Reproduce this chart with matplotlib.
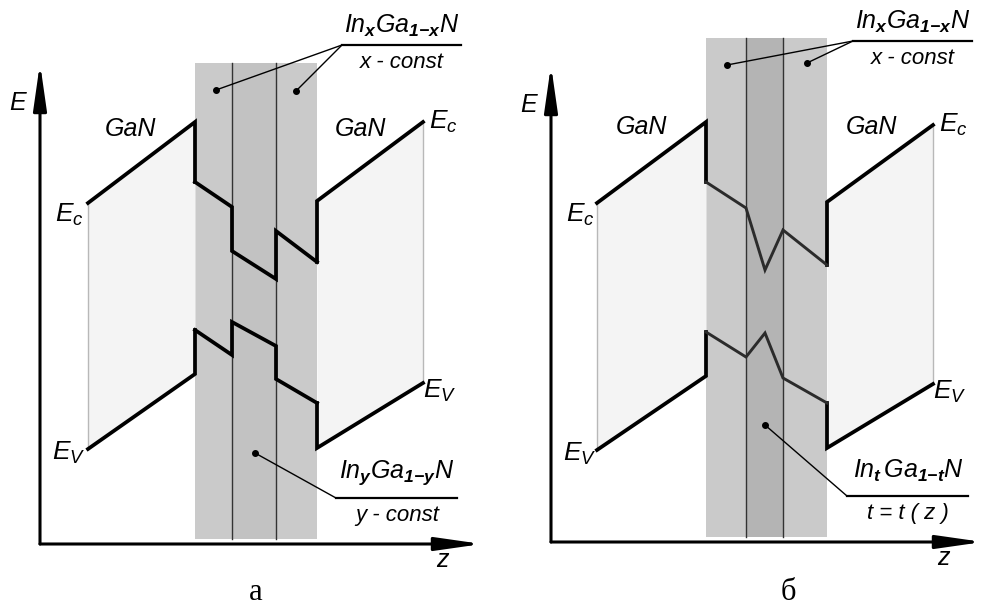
import numpy as np
import matplotlib
matplotlib.use("Agg")
import matplotlib.pyplot as plt

plt.rcParams['font.family'] = ['Liberation Sans', 'DejaVu Sans']
plt.rcParams['mathtext.fontset'] = 'custom'
plt.rcParams['mathtext.it'] = 'Liberation Sans:italic'
plt.rcParams['mathtext.rm'] = 'Liberation Sans:italic'
plt.rcParams['mathtext.bf'] = 'Liberation Sans:bold:italic'

# layer boundaries along z: GaN start, barrier/well edges, GaN end
z_a = [48, 155, 192, 236, 277, 383]
z_b = [46, 155, 195, 232, 276, 382]

# conduction / valence band edges (z, E) for panel a: constant composition
Ec_a_z = [48, 155, 155, 192, 192, 236, 236, 277, 277, 383]
Ec_a_E = [341, 422, 362, 337, 293, 265, 313, 282, 343, 422]
Ev_a_z = [48, 155, 155, 192, 192, 236, 236, 277, 277, 383]
Ev_a_E = [95, 170, 214, 189, 222, 198, 165, 141, 96, 161]

# panel б: graded composition in the central layer
Ec_b_z = [46, 155, 155, 195, 214, 232, 276, 276, 382]
Ec_b_E = [339, 420, 360, 334, 272, 312, 277, 340, 417]
Ev_b_z = [46, 155, 155, 195, 214, 232, 276, 276, 382]
Ev_b_E = [92, 166, 210, 185, 209, 164, 139, 94, 158]

W, H = 984, 606
fig = plt.figure(figsize=(W / 100, H / 100), dpi=100)

LW = 2.7
TXT = dict(style='italic', fontsize=18, color='black')


def arrow(ax, x0, y0, x1, y1):
    ax.annotate('', xy=(x1, y1), xytext=(x0, y0),
                arrowprops=dict(arrowstyle='-|>,head_length=1.4,head_width=0.2',
                                lw=2.2, color='black', shrinkA=0, shrinkB=0,
                                mutation_scale=20))


def band(ax, zs, Es, inner_color, inner_lw):
    # outer GaN slopes and the steps at the heterointerfaces stay bold
    zs, Es = np.array(zs), np.array(Es)
    ax.plot(zs[:3], Es[:3], color='black', lw=LW, zorder=4, solid_joinstyle='miter')
    ax.plot(zs[-3:], Es[-3:], color='black', lw=LW, zorder=4, solid_joinstyle='miter')
    ax.plot(zs[2:-2], Es[2:-2], color=inner_color, lw=inner_lw, zorder=4,
            solid_joinstyle='miter')


def panel(px0, pw, ox, oy, z, Ecz, EcE, Evz, EvE, top, mid_color, e_top, z_end,
          letter, lab_bot, lab_bot2, tag):
    ax = fig.add_axes([px0 / W, 0, pw / W, 1])
    ax.set_xlim(-ox, pw - ox)
    ax.set_ylim(oy - H, oy)
    ax.axis('off')

    # quantum well layers
    ax.fill_between([z[1], z[4]], 5, top, color='#cacaca', lw=0, zorder=1)
    ax.fill_between([z[2], z[3]], 5, top, color=mid_color, lw=0, zorder=1)
    for zz in (z[2], z[3]):
        ax.plot([zz, zz], [5, top], color='#333333', lw=1.0, zorder=2)

    # gap regions in the GaN layers
    EcE, EvE = np.array(EcE), np.array(EvE)
    ax.fill_between(Ecz[:2], EvE[:2], EcE[:2], color='#f4f4f4', lw=0, zorder=1)
    ax.fill_between(Ecz[-2:], EvE[-2:], EcE[-2:], color='#f4f4f4', lw=0, zorder=1)
    ax.plot([z[0], z[0]], [EvE[0], EcE[0]], color='#b8b8b8', lw=1, zorder=2)
    ax.plot([z[5], z[5]], [EvE[-1], EcE[-1]], color='#b8b8b8', lw=1, zorder=2)

    if tag:
        band(ax, Ecz, EcE, '#2b2b2b', 2.1)
        band(ax, Evz, EvE, '#2b2b2b', 2.1)
    else:
        band(ax, Ecz, EcE, 'black', LW)
        band(ax, Evz, EvE, 'black', LW)

    # axes
    arrow(ax, 0, 0, 0, e_top)
    arrow(ax, 0, 0, z_end, 0)
    ax.text(-22, e_top - 40, 'E', ha='center', va='center', **TXT)
    ax.text(z_end - 40, -16, 'z', ha='center', va='center', **TXT)
    ax.text(letter[0], letter[1], letter[2], ha='center', va='center',
            fontsize=22, family=['Liberation Serif', 'DejaVu Serif'])

    # band labels
    ax.text(90, 415, 'GaN', ha='center', va='center', **TXT)
    ax.text(320, 415, 'GaN', ha='center', va='center', **TXT)
    ax.text(29, EcE[0] - 12, r'$E_c$', ha='center', va='center', fontsize=19)
    ax.text(z[5] + 20, EcE[-1], r'$E_c$', ha='center', va='center', fontsize=19)
    ax.text(29, EvE[0] - 4, r'$E_V$', ha='center', va='center', fontsize=19)
    ax.text(z[5] + 17, EvE[-1] - 8, r'$E_V$', ha='center', va='center', fontsize=19)

    # composition callouts
    ly = top - 3 if tag else 499
    ax.text(362, ly + 19, r'$In_{\mathbf{x}}Ga_{\mathbf{1{-}x}}N$', ha='center',
            va='center', fontsize=18)
    ax.plot([302, 421], [ly, ly], color='black', lw=1.6, zorder=5)
    ax.text(362, ly - 18, 'x - const', ha='center', va='center',
            style='italic', fontsize=16)
    dots = [(176, 454 + (23 if tag else 0)), (256, 453 + (26 if tag else 0))]
    for dx, dy in dots:
        ax.plot([302, dx], [ly, dy], color='black', lw=1.0, zorder=5)
        ax.plot(dx, dy, 'o', color='black', ms=4, zorder=6)

    ax.text(357, 71, lab_bot, ha='center', va='center', fontsize=18)
    ax.plot([296, 417], [46, 46], color='black', lw=1.6, zorder=5)
    ax.text(357, 29, lab_bot2, ha='center', va='center', style='italic', fontsize=16)
    bd = (214, 117) if tag else (215, 91)
    ax.plot([296, bd[0]], [46, bd[1]], color='black', lw=1.0, zorder=5)
    ax.plot(bd[0], bd[1], 'o', color='black', ms=4, zorder=6)
    return ax


panel(0, 490, 40, 544, z_a, Ec_a_z, Ec_a_E, Ev_a_z, Ev_a_E, 481, '#c2c2c2',
      481, 442, (216, -49, 'а'), r'$In_{\mathbf{y}}Ga_{\mathbf{1{-}y}}N$',
      'y - const', False)
panel(490, 494, 61, 542, z_b, Ec_b_z, Ec_b_E, Ev_b_z, Ev_b_E, 504, '#b4b4b4',
      477, 432, (237, -50, 'б'), r'$In_{\mathbf{t}}\,Ga_{\mathbf{1{-}t}}N$',
      't = t ( z )', True)

fig.savefig('out.png', dpi=100)
